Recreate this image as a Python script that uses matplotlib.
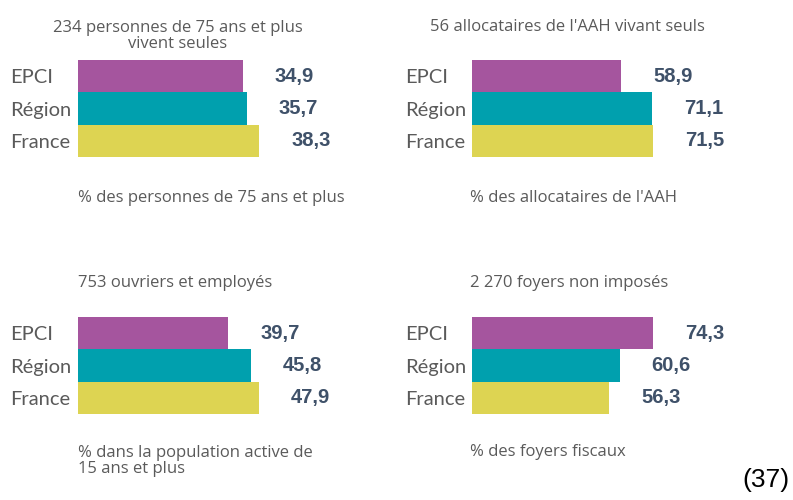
import matplotlib
matplotlib.use("Agg")
import matplotlib.pyplot as plt

categories = ["EPCI", "Région", "France"]
titles = ["234 personnes de 75 ans et plus\nvivent seules",
          "56 allocataires de l'AAH vivant seuls",
          "753 ouvriers et employés",
          "2 270 foyers non imposés"]
footers = ["% des personnes de 75 ans et plus",
           "% des allocataires de l'AAH",
           "% dans la population active de\n15 ans et plus",
           "% des foyers fiscaux"]
values_p1 = [34.9, 35.7, 38.3]
values_p2 = [58.9, 71.1, 71.5]
values_p3 = [39.7, 45.8, 47.9]
values_p4 = [74.3, 60.6, 56.3]
all_values = [values_p1, values_p2, values_p3, values_p4]

colors = ["#a5559e", "#00a0ae", "#ddd452"]
text_col = "#5a5a5a"
val_col = "#3f5169"
W, H = 793, 500

fig = plt.figure(figsize=(W / 100, H / 100), dpi=100)
fig.patch.set_facecolor("white")

def fx(px):
    return px / W

def fy(py):
    return 1 - py / H

# panel geometry in pixels: left, top of bars, bottom of bars
geom = [(78, 60, 157), (472, 60, 157), (78, 317, 414), (472, 317, 414)]
ax_w = 300
max_bar_px = 181

for k, (vals, (left, top, bottom)) in enumerate(zip(all_values, geom)):
    ax = fig.add_axes([fx(left), fy(bottom), ax_w / W, (bottom - top) / H])
    ypos = list(range(len(categories)))
    ax.barh(ypos, vals, height=1.0, color=colors, edgecolor="none")
    ax.set_ylim(2.5, -0.5)
    ax.set_xlim(0, max(vals) * ax_w / max_bar_px)
    ax.set_yticks(ypos)
    ax.set_yticklabels(categories, fontsize=14.5, color=text_col,
                       family="Lato", ha="left")
    ax.tick_params(axis="y", length=0, pad=(left - (10 if left < 400 else 405)) * 0.72)
    ax.set_xticks([])
    for s in ax.spines.values():
        s.set_visible(False)
    ax.patch.set_alpha(0)
    for i, v in enumerate(vals):
        ax.annotate(f"{v:.1f}".replace(".", ","), xy=(v, i), xytext=(32, 0),
                    textcoords="offset pixels", ha="left", va="center",
                    fontsize=14.5, fontweight="bold", color=val_col,
                    family="Liberation Sans")

tfont = dict(fontsize=12, color=text_col, family="Open Sans")
fig.text(fx(178), fy(36), titles[0], ha="center", va="center", linespacing=0.95, **tfont)
fig.text(fx(430), fy(27), titles[1], ha="left", va="center", **tfont)
fig.text(fx(78), fy(283), titles[2], ha="left", va="center", **tfont)
fig.text(fx(470), fy(283), titles[3], ha="left", va="center", **tfont)

fig.text(fx(78), fy(198), footers[0], ha="left", va="center", **tfont)
fig.text(fx(470), fy(198), footers[1], ha="left", va="center", **tfont)
fig.text(fx(78), fy(461), footers[2], ha="left", va="center", linespacing=1.0, **tfont)
fig.text(fx(470), fy(452), footers[3], ha="left", va="center", **tfont)

fig.text(fx(789), fy(480), "(37)", ha="right", va="center", fontsize=19,
         color="black", family="Liberation Sans")

fig.savefig("out.png", dpi=100)
